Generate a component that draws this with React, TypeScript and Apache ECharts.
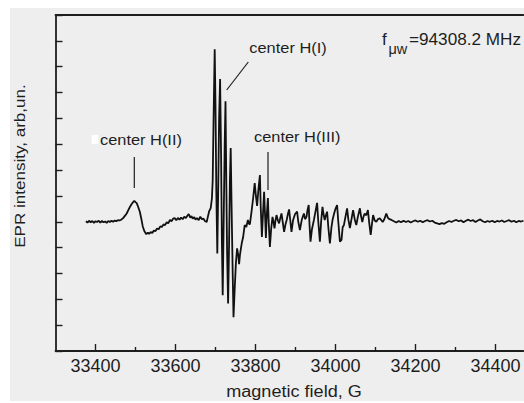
import React, { useEffect, useRef } from "react";
import * as echarts from "echarts";

// magnetic field (G) vs EPR intensity (arb. units, baseline = 0)
const baselineLeft: number[][] = [
  [33376, 0.02], [33380, -0.03], [33384, 0.04], [33388, -0.02], [33392, 0.03], [33396, -0.04],
  [33400, 0.02], [33404, -0.01], [33408, 0.04], [33412, -0.03], [33416, 0.03], [33420, -0.02],
  [33424, 0.01], [33428, -0.04], [33432, 0.03], [33436, -0.01], [33440, 0.04], [33444, 0.0],
  [33448, 0.05], [33452, 0.02], [33456, 0.06], [33460, 0.05],
];

const centerII: number[][] = [
  [33464, 0.08], [33469, 0.14], [33473, 0.22], [33478, 0.32], [33482, 0.45], [33486, 0.57],
  [33490, 0.68], [33494, 0.76], [33497, 0.81], [33500, 0.76], [33503, 0.72], [33507, 0.56],
  [33511, 0.38], [33515, 0.08], [33518, -0.17], [33522, -0.36], [33527, -0.48], [33531, -0.42],
  [33534, -0.47], [33538, -0.4], [33542, -0.43], [33546, -0.34], [33550, -0.36], [33554, -0.26],
  [33558, -0.29], [33562, -0.18], [33566, -0.2], [33570, -0.1], [33574, -0.13], [33578, -0.02],
  [33582, -0.06], [33586, 0.07], [33590, 0.02], [33594, 0.12], [33598, 0.14], [33602, 0.06],
  [33606, 0.15], [33610, 0.08], [33614, 0.16], [33618, 0.1], [33622, 0.2], [33626, 0.14],
  [33630, 0.24], [33633, 0.3], [33637, 0.16], [33640, 0.22], [33643, 0.12], [33647, 0.18],
  [33650, 0.08], [33654, 0.14], [33658, 0.06], [33662, 0.2], [33666, 0.1], [33670, 0.12],
  [33674, 0.02], [33678, -0.01],
];

const centerI: number[][] = [
  [33681, 0.2], [33684, 0.4], [33688, 0.53], [33691, 0.9], [33693, 1.6], [33695, 3.8],
  [33698, 6.67], [33700, 4.5], [33702, 1.2], [33704.5, -1.23], [33707, 1.5], [33709, 4.0],
  [33711.5, 5.52], [33714, 2.5], [33716, -0.8], [33718, -2.84], [33720, -0.5], [33723, 3.0],
  [33725, 4.66], [33727, 1.5], [33729, -1.2], [33731.5, -3.16], [33734, -0.8], [33736, 1.6],
  [33738, 2.85], [33740, 0.8], [33743, -2.0], [33745, -3.69], [33748, -2.6], [33751, -1.6],
  [33754, -1.03], [33757, -1.3], [33759, -1.64], [33761, -1.3], [33763, -1.09], [33766, -0.8],
  [33769, -0.6], [33773, -0.13], [33777, -0.2], [33781, 0.07], [33784, -0.09],
];

const centerIII: number[][] = [
  [33786, -0.09], [33790, 0.38], [33794, 0.9], [33798, 1.5], [33801, 1.0], [33804, 0.61],
  [33807, 1.2], [33811, 1.81], [33813, 0.6], [33816, -0.59], [33819, 0.4], [33821.5, 1.16],
  [33824, 0.2], [33826, -0.63], [33828, 0.2], [33831, 0.92], [33833, 0.0], [33836, -0.97],
  [33839, -0.3], [33842.5, 0.19], [33845, 0.0], [33847.5, -0.26], [33850, 0.05], [33852.5, 0.26],
  [33856, 0.05], [33859, -0.06], [33862, 0.15], [33865, 0.32], [33868, 0.0], [33871.5, -0.39],
  [33875, -0.1], [33878, 0.07], [33881, 0.3], [33884, 0.48], [33887, 0.05], [33890, -0.39],
  [33894, 0.07], [33899, 0.3], [33904, 0.39], [33907, 0.0], [33911, -0.32], [33916, 0.1],
  [33921, 0.32], [33924, 0.1], [33927.5, 0.19], [33930, 0.45], [33933, 0.65], [33935, -0.1],
  [33937.5, -0.77], [33941, -0.3], [33946, 0.07], [33950, 0.4], [33954, 0.73], [33957, 0.0],
  [33961, -0.77], [33964, 0.0], [33967.5, 0.58], [33970, 0.3], [33973, 0.07], [33976, 0.25],
  [33979, 0.39], [33982, -0.2], [33986, -0.84], [33990, -0.2], [33993, 0.1], [33996.5, 0.32],
  [34000, 0.5], [34004, 0.65], [34007, 0.0], [34011, -0.77], [34015, -0.7], [34018, -0.2],
  [34021, -0.13], [34025, 0.2], [34029, 0.52], [34032, 0.1], [34036, -0.24], [34040, 0.1],
  [34044, 0.45], [34048, 0.1], [34052, -0.13], [34056, 0.2], [34061, 0.52], [34064, 0.2],
  [34067, -0.01], [34070, 0.2], [34073, 0.32], [34077, 0.25], [34081, 0.45], [34084, 0.0],
  [34088, -0.51], [34091, -0.1], [34094, 0.26], [34098, 0.05], [34102, 0.0], [34106, 0.1],
  [34111, 0.13], [34115, 0.05], [34118, -0.01], [34122, 0.1], [34127, 0.32], [34131, 0.15],
  [34135, 0.1], [34140, 0.07],
];

const baselineRight: number[][] = [
  [34146, 0.02], [34152, -0.03], [34158, 0.03], [34164, -0.02], [34170, 0.04], [34176, -0.01],
  [34182, 0.03], [34188, -0.03], [34194, 0.02], [34200, 0.05], [34206, 0.0], [34212, 0.04],
  [34218, -0.02], [34224, 0.03], [34230, 0.06], [34236, 0.01], [34242, 0.04], [34248, -0.03],
  [34254, -0.06], [34260, -0.09], [34266, -0.05], [34272, -0.08], [34278, -0.02], [34284, 0.03],
  [34290, -0.01], [34296, 0.04], [34302, 0.07], [34308, 0.02], [34314, 0.05], [34320, -0.02],
  [34326, 0.04], [34332, 0.08], [34338, 0.03], [34344, 0.06], [34350, -0.01], [34356, 0.05],
  [34362, 0.09], [34368, 0.02], [34374, -0.02], [34380, 0.03], [34386, 0.0], [34392, 0.04],
  [34398, -0.02], [34404, 0.03], [34410, 0.01], [34416, 0.05], [34422, -0.01], [34428, 0.03],
  [34434, 0.06], [34440, 0.0], [34446, 0.04], [34452, -0.02], [34458, 0.03], [34464, 0.01],
  [34470, 0.04],
];

const xMajorTicks = [33400, 33600, 33800, 34000, 34200, 34400];
const xMinorTicks = [33500, 33700, 33900, 34100, 34300];

const FONT = "Liberation Sans, Arial, sans-serif";
const INK = "#1e1e1e";

export default function App() {
  const ref = useRef<HTMLDivElement>(null);

  useEffect(() => {
    if (!ref.current) return;
    const chart = echarts.init(ref.current, null, { renderer: "svg" });
    const spectrum = [...baselineLeft, ...centerII, ...centerI, ...centerIII, ...baselineRight];
    const xRange = { min: 33300, max: 34470 };

    const txt = (text: string, x: number, y: number, size: number, sx = 1, align = "left", rot = 0) => ({
      type: "text",
      x,
      y,
      rotation: rot,
      scaleX: sx,
      z: 10,
      style: {
        text,
        fill: INK,
        font: `${size}px ${FONT}`,
        align,
        verticalAlign: "middle",
      },
    });
    const seg = (x1: number, y1: number, x2: number, y2: number) => ({
      type: "line",
      z: 10,
      shape: { x1, y1, x2, y2 },
      style: { stroke: INK, lineWidth: 1.2 },
    });

    chart.setOption({
      animation: false,
      backgroundColor: "#eeeeee",
      grid: { left: 55.5, right: 0.5, top: 15, bottom: 52, containLabel: false },
      xAxis: [
        {
          type: "value",
          ...xRange,
          position: "bottom",
          axisLine: { show: true, onZero: false, lineStyle: { color: INK, width: 1.8 } },
          axisTick: { show: true, inside: true, length: 7, customValues: xMajorTicks, lineStyle: { color: INK, width: 1.4 } },
          axisLabel: {
            show: true,
            customValues: xMajorTicks,
            formatter: (v: number) => String(v),
            color: INK,
            fontSize: 18,
            fontFamily: FONT,
            margin: 6,
          },
          splitLine: { show: false },
        },
        {
          type: "value",
          ...xRange,
          position: "bottom",
          axisLine: { show: false, onZero: false },
          axisTick: { show: true, inside: true, length: 4, customValues: xMinorTicks, lineStyle: { color: INK, width: 1.4 } },
          axisLabel: { show: false },
          splitLine: { show: false },
        },
        {
          type: "value",
          ...xRange,
          position: "top",
          axisLine: { show: true, onZero: false, lineStyle: { color: INK, width: 1.8 } },
          axisTick: { show: false },
          axisLabel: { show: false },
          splitLine: { show: false },
        },
      ],
      yAxis: {
        type: "value",
        min: -5,
        max: 8,
        interval: 1,
        axisLine: { show: true, onZero: false, lineStyle: { color: INK, width: 1.8 } },
        axisTick: { show: true, inside: true, length: 7, lineStyle: { color: INK, width: 1.4 } },
        axisLabel: { show: false },
        splitLine: { show: false },
      },
      series: [
        {
          type: "line",
          xAxisIndex: 0,
          data: spectrum,
          showSymbol: false,
          symbol: "none",
          lineStyle: { color: "#111111", width: 1.8 },
          z: 3,
        },
      ],
      graphic: [
        { type: "rect", z: 20, shape: { x: 0, y: 0, width: 10, height: 403 }, style: { fill: "#ffffff" } },
        { type: "rect", z: 20, shape: { x: 0, y: 0, width: 524, height: 8 }, style: { fill: "#ffffff" } },
        { type: "rect", z: 20, shape: { x: 0, y: 401, width: 524, height: 2 }, style: { fill: "#ffffff" } },
        txt("EPR intensity, arb,un.", 19, 166, 15.5, 1.1, "center", Math.PI / 2),
        txt("magnetic field, G", 294, 392, 16, 1.13, "center"),
        { type: "rect", z: 10, shape: { x: 91.7, y: 135, width: 6.6, height: 9 }, style: { fill: "#ffffff" } },
        txt("center H(II)", 100, 139.5, 14.5, 1.13),
        seg(134.3, 157, 134.3, 188),
        txt("center H(I)", 249.3, 48, 14.5, 1.13),
        seg(248.3, 62, 226.7, 90),
        txt("center H(III)", 254, 137, 14.5, 1.13),
        seg(268, 152, 268, 190),
        txt("f", 382, 39.5, 17),
        txt("\u03bcw", 388.5, 48.5, 14.5),
        txt("=94308.2 MHz", 409, 39.2, 16.5, 1.04),
      ],
    });
    return () => chart.dispose();
  }, []);

  return (
    <div
      ref={ref}
      style={{ position: "fixed", left: 0, top: 0, width: 524, height: 403, background: "#ffffff" }}
    />
  );
}
